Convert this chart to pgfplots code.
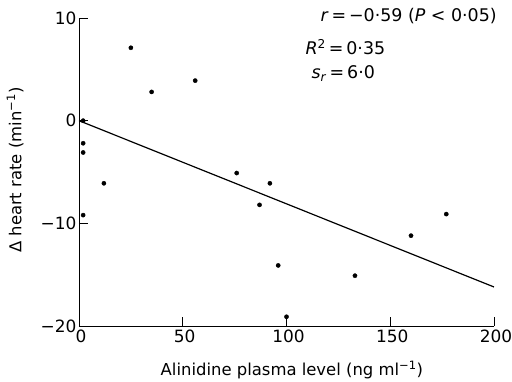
\documentclass[border=0pt]{standalone}
\usepackage{pgfplots}
\pgfplotsset{compat=1.18}
\usepackage{fontspec}
\setmainfont{DejaVu Sans}
\begin{document}
\begin{tikzpicture}
\useasboundingbox (-79bp,-56bp) rectangle (433bp,326bp);
\begin{axis}[
  at={(0,0)}, anchor=south west,
  scale only axis, width=415bp, height=308bp,
  xmin=0, xmax=200, ymin=-20, ymax=10,
  axis x line=bottom, axis y line=left,
  axis line style={-, line width=0.9pt},
  tick align=inside, major tick length=9bp,
  tick style={line width=0.9pt, black},
  xtick={0,50,100,150,200}, xticklabels={0,50,100,150,200},
  ytick={-20,-10,0,10}, yticklabels={−20,−10,0,10},
  tick label style={font=\fontsize{17}{20}\selectfont},
  xticklabel style={yshift=0bp, xshift=2bp},
  yticklabel style={xshift=1bp},
  clip=false,
]
\addplot[only marks, mark=*, mark size=2.1bp, black] coordinates {
(2,0) (2,-2.2) (2,-3.1) (2,-9.2) (12,-6.1) (25,7.1) (35,2.8) (56,3.9)
(76,-5.1) (87,-8.2) (92,-6.1) (96,-14.1) (100,-19.1) (133,-15.1)
(160,-11.2) (177,-9.1)
};
\addplot[black, line width=1.2pt] coordinates {(0,0) (200,-16.2)};
\node[anchor=east, font=\fontsize{17.5}{20}\selectfont] at (axis cs:203,10.2) {\textit{r}\,=\,−0·59 (\textit{P} < 0·05)};
\node[anchor=west, font=\fontsize{17.5}{20}\selectfont] at (axis cs:107.5,7.2) {\textit{R}\textsuperscript{2}\,=\,0·35};
\node[anchor=west, font=\fontsize{17.5}{20}\selectfont] at (axis cs:110.4,4.6) {\textit{s}\textsubscript{\textit{r}}\,=\,6·0};
\node[font=\fontsize{16.5}{19}\selectfont] at (axis description cs:0.513,-0.142) {Alinidine plasma level (ng ml\textsuperscript{−1})};
\node[rotate=90, font=\fontsize{16.5}{19}\selectfont] at (axis description cs:-0.154,0.506) {Δ heart rate (min\textsuperscript{−1})};
\end{axis}
\end{tikzpicture}
\end{document}
